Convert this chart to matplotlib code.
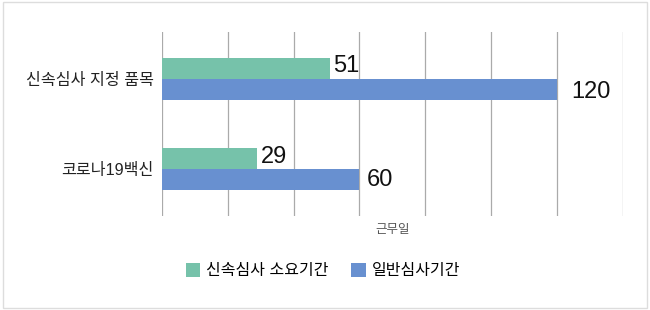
import matplotlib.pyplot as plt
import numpy as np
from matplotlib.patches import Rectangle

plt.rcParams['font.family'] = ['Liberation Sans', 'Noto Sans CJK KR']

categories = ['신속심사 지정 품목', '코로나19백신']
fast_days = [51, 29]
normal_days = [120, 60]
series_names = ['신속심사 소요기간', '일반심사기간']
x_unit = '근무일'

green = '#76c2aa'
blue = '#6890d0'

fig = plt.figure(figsize=(6.5, 3.1), dpi=100)
ax = fig.add_axes([0.249, 0.303, 0.709, 0.594])

y = np.arange(len(categories))
h = 0.235
b1 = ax.barh(y - h / 2, fast_days, height=h, color=green, label=series_names[0], zorder=3)
b2 = ax.barh(y + h / 2, normal_days, height=h, color=blue, label=series_names[1], zorder=3)

ax.set_xlim(0, 140)
ax.set_ylim(1.52, -0.52)
ax.set_xticks(np.arange(0, 141, 20))
ax.set_xticklabels([])
ax.tick_params(axis='both', length=0)
ax.grid(axis='x', color='#aaaaaa', linewidth=0.9, zorder=0)
for s in ax.spines.values():
    s.set_visible(False)

ax.set_yticks(y)
ax.set_yticklabels(categories, fontsize=11.6, color='#222222')
ax.tick_params(axis='y', pad=6)
ax.set_xlabel(x_unit, fontsize=9, color='#555555', labelpad=2)

# label offsets (px) tweaked to look like the original
offs1 = [(3, 2), (4, 2)]
offs2 = [(14, -3), (7, 0)]
for bar, v, o in zip(b1, fast_days, offs1):
    ax.annotate(str(v), (v, bar.get_y() + bar.get_height() / 2), xytext=o,
                textcoords='offset pixels', va='center', ha='left', fontsize=17, color='#111111')
for bar, v, o in zip(b2, normal_days, offs2):
    ax.annotate(str(v), (v, bar.get_y() + bar.get_height() / 2), xytext=o,
                textcoords='offset pixels', va='center', ha='left', fontsize=17, color='#111111')

fig.legend(loc='center', bbox_to_anchor=(0.497, 0.128), ncol=2, frameon=False,
           fontsize=11.5, handlelength=0.9, handleheight=1.0, handletextpad=0.4,
           columnspacing=1.4)

fig.patches.append(Rectangle((0.004, 0.006), 0.992, 0.988, transform=fig.transFigure,
                             fill=False, edgecolor='#dddddd', linewidth=1))

fig.savefig('out.png', dpi=100, facecolor='white')
